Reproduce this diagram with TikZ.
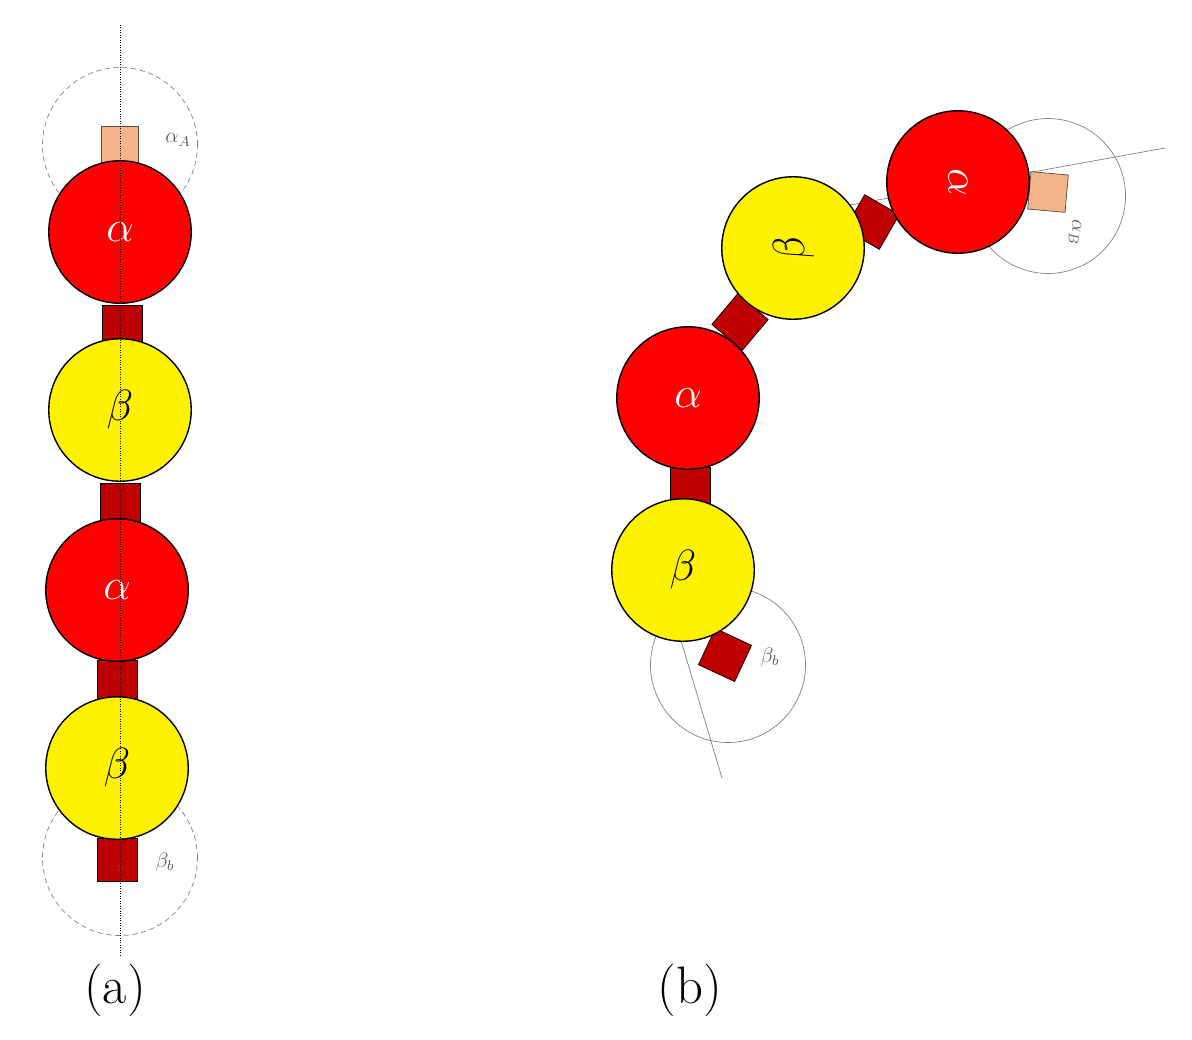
\documentclass[tikz,border=0pt]{standalone}
\usetikzlibrary{positioning}
\definecolor{darkred}{RGB}{190,0,0}
\definecolor{peach}{RGB}{245,180,135}
\begin{document}
\begin{tikzpicture}[x=0.02cm,y=-0.02cm,
    unitA/.style={circle,draw=black,thick,fill=red,minimum size=2.85cm,inner sep=0pt,text=white,font=\fontsize{30}{30}\selectfont},
    unitB/.style={circle,draw=black,thick,fill=yellow,minimum size=2.85cm,inner sep=0pt,font=\fontsize{30}{30}\selectfont},
    link/.style={rectangle,draw=black,fill=darkred,minimum width=0.8cm,minimum height=0.8cm,inner sep=0pt},
    endcap/.style={rectangle,draw=black!70,fill=peach,minimum width=0.75cm,minimum height=0.75cm,inner sep=0pt},
    site/.style={circle,draw=gray,densely dashed,minimum size=3.1cm},
    siteb/.style={circle,draw=gray,minimum size=3.1cm},
    tag/.style={text=gray!70!black,font=\large},
    axis/.style={densely dotted}
  ]
  \useasboundingbox (0,0) rectangle (1192,1039);
  % (a) straight chain
  \node[site] (sa) at (120,145) {};
  \node[site] (sb) at (120,858) {};
  \coordinate (top) at (120,25);
  \coordinate (bot) at (120,955);
  \node[endcap] (ca) at (120,145) {};
  \node[link] (l1) at (122,325) {};
  \node[link] (l2) at (120,503) {};
  \node[link] (l3) at (117,680) {};
  \node[link,minimum height=0.85cm] (lb) at (117,860) {};
  \node[unitA] (a1) at (120,232) {$\alpha$};
  \node[unitB] (b1) at (120,410) {$\beta$};
  \node[unitA] (a2) at (117,590) {$\alpha$};
  \node[unitB] (b2) at (117,768) {$\beta$};
  \draw[axis] (top) -- (bot);
  \node[tag] at (178,140) {$\alpha_A$};
  \node[tag] at (165,862) {$\beta_b$};
  \node[font=\fontsize{30}{30}\selectfont] (la) at (115,990) {(a)};
  % (b) bent chain
  \node[siteb] (sc) at (1048,196) {};
  \node[siteb] (sd) at (728,665) {};
  \coordinate (ea) at (1165,148);
  \coordinate (eb) at (850,205);
  \coordinate (ec) at (722,778);
  \coordinate (ed) at (645,520);
  \draw[gray] (ea) -- (eb);
  \draw[gray] (ec) -- (ed);
  \node[endcap,rotate=-5] (cb) at (1048,192) {};
  \node[link,rotate=-30] (m1) at (872,222) {};
  \node[link,rotate=-40] (m2) at (740,322) {};
  \node[link] (m3) at (690,487) {};
  \node[link,rotate=-25] (m4) at (725,655) {};
  \node[unitA] (c1) at (958,182) {\rotatebox{-90}{$\alpha$}};
  \node[unitB] (d1) at (793,248) {\rotatebox{100}{$\beta$}};
  \node[unitA] (c2) at (688,398) {$\alpha$};
  \node[unitB] (d2) at (683,570) {$\beta$};
  \node[tag,rotate=-90] at (1075,232) {$\alpha_B$};
  \node[tag] at (770,657) {$\beta_b$};
  \node[font=\fontsize{30}{30}\selectfont] (lb2) at (690,990) {(b)};
\end{tikzpicture}
\end{document}
